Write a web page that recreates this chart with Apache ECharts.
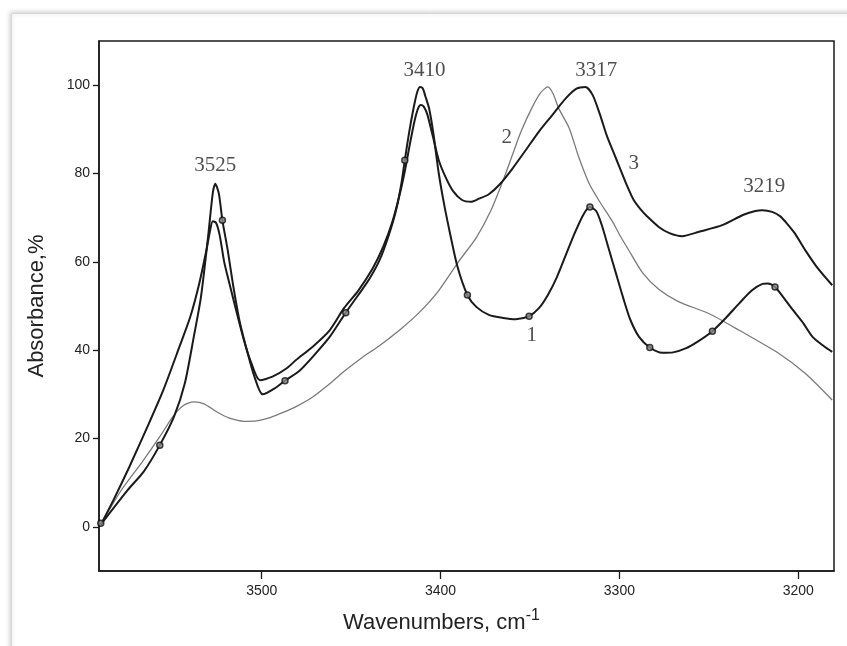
<!DOCTYPE html>
<html><head><meta charset="utf-8">
<script src="https://cdn.jsdelivr.net/npm/echarts@6/dist/echarts.min.js"></script>
<style>html,body{margin:0;padding:0;background:#fff}#c{width:847px;height:646px}</style>
</head><body><div id="c"></div>
<script>
// Curve 1 (sharp bands, with circle markers)
const curve1W = [3590,3575,3566,3557,3549,3543,3538,3534,3530,3527.4,3526,3524,3522,3519,3516,3512.5,3508,3504,3499.5,3493,3487,3479,3471.5,3462,3453,3446,3440,3434,3429,3425,3422,3420,3417.5,3415,3413,3411.5,3410,3408.5,3406.4,3404,3401,3398,3395,3390.6,3385,3380,3373,3365,3358,3350.5,3345,3340,3335,3330,3325,3320,3316.5,3313,3310,3306,3302,3298,3294,3289,3283,3276,3270,3263,3256,3248,3240,3233,3226,3220,3217,3213,3208,3203,3197,3192,3186,3181];
const curve1V = [0.5,8.3,12.5,18.5,25,32.5,43,52,65.7,75.5,77.7,75.5,69.4,62.6,54.7,46.8,39.5,33.9,30,31.3,33.1,35.3,38.5,43,48.5,52.5,56,60.5,66,71.5,77.5,83,89.5,95,98.5,99.6,99.3,97.5,94.7,89,80,73,67,59,52.5,49.8,48,47.3,47,47.7,49.5,52.5,56.5,61.5,66.5,70.8,72.4,71.5,68.5,63,57.5,52,47,43,40.6,39.4,39.5,40.4,42,44.3,47.5,50.6,53.5,55,55.1,54.3,51.8,49.1,46,43,41,39.6];
// Curve 2 (grey)
const curve2W = [3590,3579,3567,3557,3550,3544,3538,3532,3525,3518,3510,3503,3495,3488,3480,3471.5,3462,3453,3444,3436,3429,3423,3412,3401,3390,3380,3372,3365,3360,3355,3349,3344,3340,3337,3334,3328,3323,3317,3311,3304,3300,3295,3287,3278,3267,3250,3233,3211,3196,3181];
const curve2V = [0.5,8,14.6,20.4,24.8,27.4,28.3,27.8,26,24.6,23.9,24,24.8,25.9,27.4,29.4,32.4,35.5,38.3,40.5,42.6,44.5,48.5,53.5,60,65.5,71.5,78.5,84,89.5,94.8,98.3,99.6,98,94.8,90.2,84,77.8,73.6,69.2,66.2,62.8,57.5,53.8,51,48.3,44.5,39.3,34.7,28.7];
// Curve 3 (broad bands)
const curve3W = [3590,3583,3574,3563,3555,3546,3540,3535,3531,3529,3527.4,3525.5,3523.5,3521,3518,3514,3510,3506,3501,3494,3486,3481,3471.5,3462,3454,3446,3438,3432,3427,3423,3420,3417,3414.5,3412.5,3411,3409.5,3407.5,3404.5,3401,3397,3393,3388,3383,3378.5,3373,3367,3360,3352,3345,3338,3330,3324,3319,3315,3311,3307,3303,3300,3296,3292,3288,3285,3278,3272,3265,3255.5,3242.5,3231,3224,3220,3214.6,3210,3207,3202,3196,3189,3181];
const curve3V = [0.5,6,13.6,23.5,31,40.8,47.5,55,62.5,66.8,69.2,68.8,66,60,55,48.5,42.3,37.3,33.2,34,35.9,37.7,40.8,44.5,49.5,53.5,58.5,63.5,69,75,80.5,87,92,94.8,95.5,95.2,93.5,88.7,83,79,76,74,73.6,74.3,75.3,77.5,81,85.5,89.5,93,97,99.2,99.6,97.8,93.5,88.5,84.5,81.5,77.5,74,71.8,70.5,67.9,66.5,65.8,66.8,68.3,70.6,71.5,71.7,71.3,70.3,69,66.5,62.6,58.5,54.7];
// Circle markers on curve 1
const markerW = [3590,3557,3522,3487,3453,3420,3385,3350.5,3316.5,3283,3248,3213];
const markerV = [0.8,18.5,69.4,33.1,48.5,83,52.5,47.7,72.4,40.6,44.3,54.3];
// Annotations (text, anchor in data units)
const annoText = ['3525','3410','3317','3219','1','2','3'];
const annoW = [3526,3409,3313,3219,3349,3363,3292];
const annoV = [81.8,103.4,103.4,77.1,43.4,88.2,82.3];
// Axis ticks
const xTicks = [3500,3400,3300,3200];
const yTicks = [0,20,40,60,80,100];

const zip = (a,b) => a.map((v,i)=>[v,b[i]]);
const chart = echarts.init(document.getElementById('c'));
const sans = '"Liberation Sans", Arial, sans-serif';
const serif = '"Liberation Serif", "Times New Roman", serif';
chart.setOption({
  animation: false,
  backgroundColor: '#fff',
  graphic: [{
    type: 'rect', left: 11, top: 13, z: -10,
    shape: {width: 860, height: 660},
    style: {fill: '#fff', stroke: '#d8d8d8', lineWidth: 1, shadowBlur: 5, shadowColor: 'rgba(0,0,0,0.25)', shadowOffsetX: -1, shadowOffsetY: -1}
  }],
  grid: {left: 99, right: 13, top: 41, bottom: 75, show: true, borderColor: '#1a1a1a', borderWidth: 1.5, backgroundColor: 'transparent'},
  xAxis: {
    type: 'value', inverse: true, min: 3180, max: 3591,
    splitLine: {show: false},
    axisLine: {show: true, onZero: false, lineStyle: {color: '#1a1a1a', width: 1.5}},
    axisTick: {show: true, customValues: xTicks, length: 8, lineStyle: {color: '#1a1a1a', width: 1.3}},
    axisLabel: {customValues: xTicks, formatter: v => String(v), fontSize: 14, margin: 13, color: '#222', fontFamily: sans},
    name: '{a|Wavenumbers, cm}{b|-1}',
    nameLocation: 'middle', nameGap: 37,
    nameTextStyle: {
      padding: [0, 50, 0, 0],
      rich: {
        a: {fontSize: 22, fontFamily: sans, color: '#222', lineHeight: 26, verticalAlign: 'bottom'},
        b: {fontSize: 16, fontFamily: sans, color: '#222', lineHeight: 26, verticalAlign: 'top'}
      }
    }
  },
  yAxis: {
    type: 'value', min: -10, max: 110,
    splitLine: {show: false},
    axisLine: {show: true, onZero: false, lineStyle: {color: '#1a1a1a', width: 1.5}},
    axisTick: {show: true, customValues: yTicks, length: 6, lineStyle: {color: '#1a1a1a', width: 1.3}},
    axisLabel: {customValues: yTicks, formatter: v => String(v), fontSize: 14, margin: 9, color: '#222', fontFamily: sans},
    name: 'Absorbance,%', nameLocation: 'middle', nameGap: 51, nameRotate: 90,
    nameTextStyle: {fontSize: 22, fontFamily: sans, color: '#222'}
  },
  series: [
    {type: 'line', data: zip(curve2W, curve2V), showSymbol: false, smooth: 0.25,
     lineStyle: {color: '#7a7a7a', width: 1.3}, z: 2},
    {type: 'line', data: zip(curve3W, curve3V), showSymbol: false, smooth: 0.25,
     lineStyle: {color: '#1a1a1a', width: 2}, z: 3},
    {type: 'line', data: zip(curve1W, curve1V), showSymbol: false, smooth: 0.25,
     lineStyle: {color: '#1a1a1a', width: 2}, z: 4},
    {type: 'scatter', data: zip(markerW, markerV), symbol: 'circle', symbolSize: 6,
     itemStyle: {color: '#888', borderColor: '#111', borderWidth: 1.5}, z: 5},
    {type: 'scatter', data: annoW.map((w,i)=>({value: [w, annoV[i]], name: annoText[i]})),
     symbolSize: 0, silent: true, z: 6,
     label: {show: true, position: 'inside', formatter: p => p.name, fontSize: 21, fontFamily: serif, color: '#222'}}
  ]
});
</script></body></html>
